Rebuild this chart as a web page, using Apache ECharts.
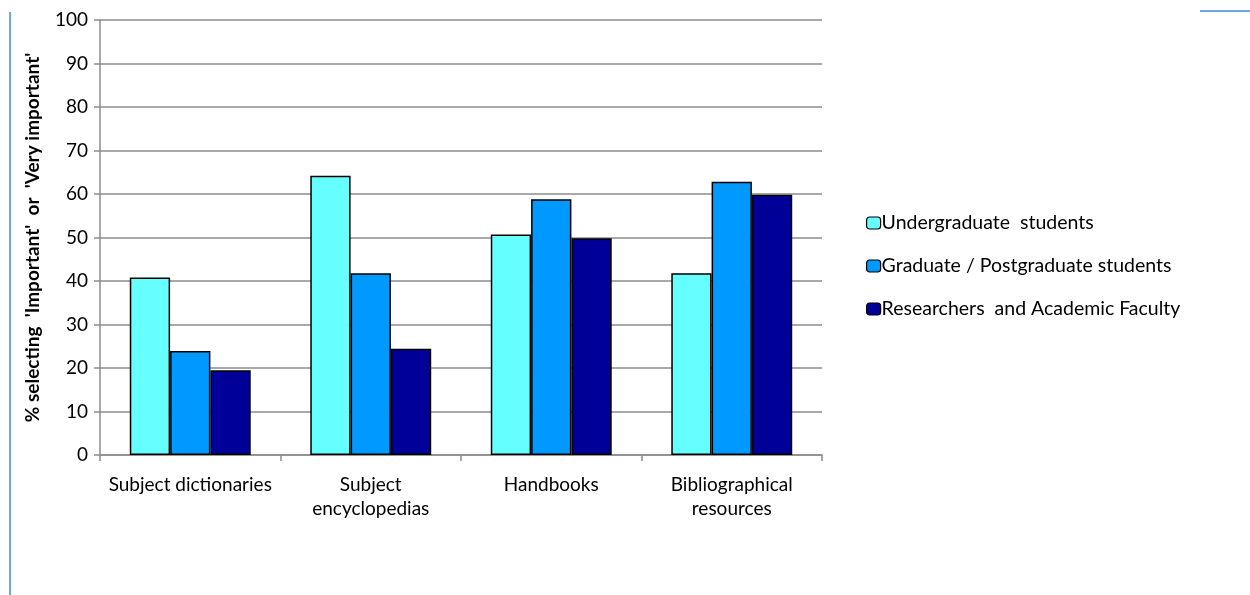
<!DOCTYPE html>
<html>
<head>
<meta charset="utf-8">
<script src="https://cdn.jsdelivr.net/npm/echarts@6/dist/echarts.min.js"></script>
<style>
  html, body { margin: 0; padding: 0; background: #fff; }
  #chart { width: 1250px; height: 595px; }
</style>
</head>
<body>
<div id="chart"></div>
<script>
// categories and series values
var categories = ["Subject dictionaries", "Subject\nencyclopedias", "Handbooks", "Bibliographical\nresources"];
var seriesNames = ["Undergraduate  students", "Graduate / Postgraduate students", "Researchers  and Academic Faculty"];
var undergrad = [40.8, 64.2, 50.7, 41.8];
var postgrad = [23.9, 41.8, 58.8, 62.8];
var researchers = [19.5, 24.4, 49.8, 59.8];
var colors = ["#66FFFF", "#0099FF", "#000099"];

var font = "Lato, 'Open Sans', sans-serif";
var chart = echarts.init(document.getElementById("chart"));

function barSeries(name, data, color) {
  return {
    name: name,
    type: "bar",
    data: data,
    barGap: "0%",
    barCategoryGap: "33%",
    itemStyle: { color: color, borderColor: "#000", borderWidth: 1.5 },
    emphasis: { disabled: true }
  };
}

chart.setOption({
  animation: false,
  grid: { left: 100, right: 428, top: 20, bottom: 140, containLabel: false },
  legend: {
    orient: "vertical",
    left: 861,
    top: 208,
    itemGap: 23,
    itemWidth: 14,
    itemHeight: 12,
    data: seriesNames,
    textStyle: { color: "#000", fontSize: 19.5, fontFamily: font, padding: [0, 0, 0, -4] },
    itemStyle: { borderColor: "#000", borderWidth: 1.2 }
  },
  xAxis: {
    type: "category",
    data: categories,
    axisLine: { lineStyle: { color: "#8c8c8c", width: 1.5 } },
    axisTick: { show: true, interval: 0, length: 6, lineStyle: { color: "#8c8c8c", width: 1.5 } },
    axisLabel: { interval: 0, hideOverlap: false, color: "#000", fontSize: 19, fontFamily: font, margin: 18, lineHeight: 24 }
  },
  yAxis: {
    type: "value",
    min: 0,
    max: 100,
    interval: 10,
    name: "% selecting  'Important'  or  'Very important'",
    nameLocation: "middle",
    nameGap: 58,
    nameTextStyle: { color: "#000", fontSize: 19, fontWeight: "bold", fontFamily: font },
    axisLine: { show: true, lineStyle: { color: "#8c8c8c", width: 1.5 } },
    axisTick: { show: true, length: 6, lineStyle: { color: "#8c8c8c", width: 1.5 } },
    axisLabel: { color: "#000", fontSize: 19, fontFamily: font, margin: 12 },
    splitLine: { lineStyle: { color: "#8c8c8c", width: 1.5 } }
  },
  graphic: [
    { type: "line", shape: { x1: 10, y1: 12, x2: 10, y2: 595 }, style: { stroke: "#3a8fd0", lineWidth: 1.5 } },
    { type: "line", shape: { x1: 1200, y1: 11, x2: 1250, y2: 11 }, style: { stroke: "#3a8fd0", lineWidth: 1.5 } }
  ],
  series: [
    barSeries(seriesNames[0], undergrad, colors[0]),
    barSeries(seriesNames[1], postgrad, colors[1]),
    barSeries(seriesNames[2], researchers, colors[2])
  ]
});
</script>
</body>
</html>
